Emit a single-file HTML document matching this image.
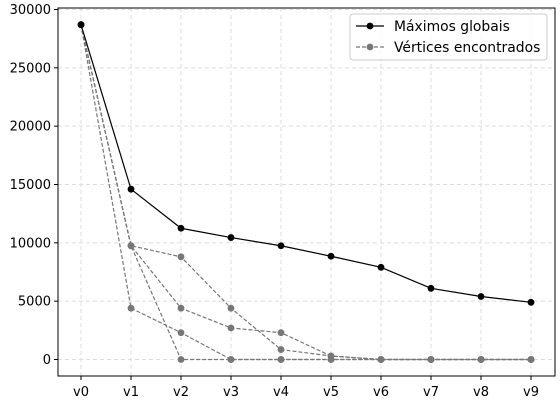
<!DOCTYPE html>
<html><head><meta charset="utf-8"><style>
body{margin:0;background:#fff}
svg{display:block;font-family:"DejaVu Sans","Liberation Sans",sans-serif}
</style></head><body>
<svg id="chart" width="560" height="406" viewBox="0 0 560 406" xmlns="http://www.w3.org/2000/svg">
<rect x="0" y="0" width="560" height="406" fill="#fff"/>
<g id="grid"></g>
<g id="series"></g>
<rect x="58" y="8" width="497" height="368" fill="none" stroke="#000" stroke-width="1"/>
<g id="axes" font-size="13" fill="#000"></g>
<g>
<rect x="350" y="14" width="197" height="46" rx="3" fill="#fff" fill-opacity="0.85" stroke="#ccc"/>
<line x1="356" y1="26" x2="384" y2="26" stroke="#000" stroke-width="1.3"/>
<circle cx="370" cy="26" r="3.4" fill="#000"/>
<text x="394" y="31" font-size="13.9">Máximos globais</text>
<line x1="356" y1="47" x2="384" y2="47" stroke="#777" stroke-width="1.3" stroke-dasharray="4,2"/>
<circle cx="370" cy="47" r="3.4" fill="#777"/>
<text x="394" y="52" font-size="13.9">Vértices encontrados</text>
</g>
</svg>
<script>
const categories=["v0","v1","v2","v3","v4","v5","v6","v7","v8","v9"];
const yTicks=[0,5000,10000,15000,20000,25000,30000];
const maxGlobal=[28700,14600,11250,10450,9750,8850,7900,6100,5400,4900];
const found1=[28700,9750,8800,4400,850,300,0,0,0,0];
const found2=[28700,9750,4400,2700,2300,300,0,0,0,0];
const found3=[28700,4400,2300,0,0,0,0,0,0,0];
const found4=[28700,9750,0,0,0,0,0,0,0,0];
const NS="http://www.w3.org/2000/svg";
const L=58,R=555,T=8,B=376;
const xs=i=>81+i*(531-81)/(categories.length-1);
const ys=v=>359.5-v*(350/30000);
function mk(tag,attrs,parent){const e=document.createElementNS(NS,tag);for(const k in attrs)e.setAttribute(k,attrs[k]);parent.appendChild(e);return e;}
const grid=document.getElementById('grid'),axes=document.getElementById('axes'),ser=document.getElementById('series');
categories.forEach((c,i)=>{
  const g=mk('line',{x1:xs(i),x2:xs(i),y1:T,y2:B,stroke:'#ddd','stroke-dasharray':'4,3'},grid);
  
  
  const t=mk('line',{x1:xs(i),x2:xs(i),y1:B,y2:B+4,stroke:'#000'},axes);
  
  
  const tx=mk('text',{x:xs(i),y:B+20,'text-anchor':'middle'},axes);
  tx.textContent=c;
  
  
});
yTicks.forEach(v=>{
  const g=mk('line',{x1:L,x2:R,y1:ys(v),y2:ys(v),stroke:'#ddd','stroke-dasharray':'4,3'},grid);
  
  
  const t=mk('line',{x1:L-4,x2:L,y1:ys(v),y2:ys(v),stroke:'#000'},axes);
  
  
  const tx=mk('text',{x:L-7,y:ys(v)+4.5,'text-anchor':'end'},axes);
  tx.textContent=String(v);
  
  
});
function draw(data,color,dash,name){
  const g=mk('g',{},ser);
  
  
  const p=mk('polyline',{points:data.map((v,i)=>xs(i)+','+ys(v)).join(' '),fill:'none',stroke:color,'stroke-width':1.2},g);
  if(dash)p.setAttribute('stroke-dasharray','4,2');
  
  
  data.forEach((v,i)=>{
    const c=mk('circle',{cx:xs(i),cy:ys(v),r:3.4,fill:color},g);
    
    
  });
}
draw(found1,'#777',true,'found-series-1');
draw(found2,'#777',true,'found-series-2');
draw(found3,'#777',true,'found-series-3');
draw(found4,'#777',true,'found-series-4');
draw(maxGlobal,'#000',false,'max-global-series');
</script>
</body></html>
